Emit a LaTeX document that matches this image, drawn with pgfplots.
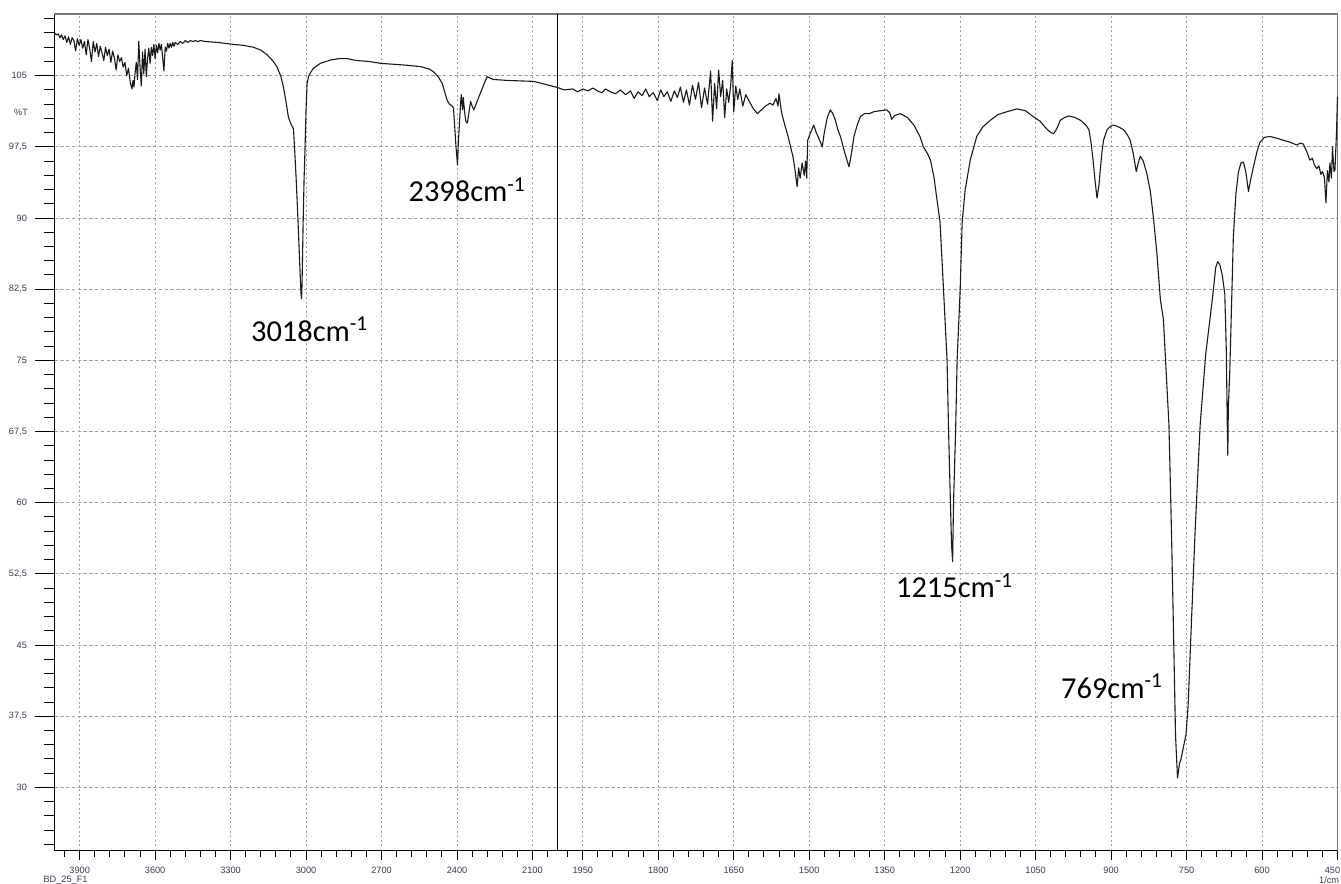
\documentclass[border=0pt]{standalone}
\usepackage{pgfplots}
\pgfplotsset{compat=1.18}
\usepackage{pgfplotstable}
\usepackage{fontspec}
\setmainfont{Liberation Sans}
\newfontfamily\annfont{Carlito}
\definecolor{tickcol}{RGB}{55,60,80}
\definecolor{gridcol}{RGB}{160,160,160}
\definecolor{framecol}{RGB}{120,120,120}
\definecolor{tracecol}{RGB}{25,25,25}
\tikzset{annot/.style={anchor=base west, inner sep=0pt, font=\annfont\fontsize{15.2}{17}\selectfont}}

% FTIR spectrum: wavenumber (1/cm) and transmittance (%T)
\pgfplotstableread{
wn T
4000 109.5
3992 109.3
3985 109.4
3978 109.0
3972 109.3
3965 108.8
3958 109.2
3951 108.5
3944 109.1
3937 108.3
3930 109.0
3923 108.7
3916 107.6
3909 108.9
3902 108.2
3895 108.8
3888 107.9
3881 108.6
3874 107.2
3867 108.8
3860 107.8
3853 106.5
3846 108.6
3839 107.5
3832 108.4
3825 107.0
3818 108.1
3811 107.4
3804 106.6
3797 108.0
3790 107.1
3783 107.8
3776 106.4
3769 107.6
3762 106.9
3755 105.6
3748 107.2
3741 106.5
3734 106.9
3727 105.9
3720 106.4
3713 105.0
3706 105.8
3699 104.3
3692 103.6
3688 104.5
3684 103.8
3680 105.2
3675 106.4
3670 104.6
3665 108.6
3660 106.0
3655 103.9
3650 107.5
3645 105.2
3640 107.8
3635 104.9
3630 106.8
3625 107.9
3620 106.3
3615 108.0
3610 107.1
3605 108.3
3600 106.8
3595 108.2
3590 107.4
3585 108.4
3580 107.7
3575 108.3
3570 106.9
3565 105.5
3560 108.0
3555 107.6
3550 108.4
3545 107.9
3540 108.4
3535 108.0
3530 108.5
3525 108.1
3520 108.5
3510 108.3
3500 108.6
3490 108.4
3480 108.7
3470 108.5
3460 108.7
3450 108.6
3440 108.7
3430 108.6
3420 108.7
3400 108.6
3350 108.5
3290 108.3
3250 108.2
3210 108.0
3180 107.7
3155 107.2
3130 106.5
3115 105.9
3100 104.9
3090 103.8
3080 102.3
3070 100.6
3060 99.9
3050 99.4
3045 97.0
3040 94.5
3035 91.5
3030 88.4
3025 85.0
3020 82.0
3018 81.5
3016 83.0
3012 89.0
3008 94.0
3004 97.5
3000 101.5
2996 104.2
2990 104.9
2983 105.3
2970 105.8
2943 106.3
2903 106.65
2870 106.8
2837 106.8
2800 106.6
2750 106.5
2704 106.3
2650 106.2
2600 106.1
2545 105.95
2510 105.7
2493 105.4
2475 104.9
2459 104.2
2448 103.2
2439 102.4
2430 102.0
2419 101.8
2414 101.6
2410 100.0
2404 97.5
2398 95.6
2395 97.8
2391 99.6
2386 102.0
2383 103.0
2378 101.4
2375 102.7
2370 101.2
2365 100.2
2359 100.0
2352 101.2
2346 102.3
2340 101.8
2333 101.4
2320 102.3
2305 103.3
2290 104.3
2280 104.9
2265 104.7
2255 104.6
2200 104.5
2150 104.45
2095 104.4
2050 104.1
2000 103.75
1987 103.5
1970 103.6
1960 103.3
1950 103.6
1940 103.4
1930 103.7
1921 103.4
1912 103.2
1905 103.6
1895 103.3
1885 103.1
1875 103.5
1865 103.0
1855 103.4
1848 102.6
1840 103.3
1832 102.9
1825 103.6
1818 102.8
1810 103.2
1802 102.4
1795 103.5
1789 102.8
1782 103.3
1775 102.3
1768 103.4
1762 102.7
1756 103.8
1750 102.2
1744 103.5
1738 101.9
1732 104.0
1726 102.5
1720 104.3
1714 101.6
1708 103.7
1702 102.0
1696 105.5
1692 100.2
1688 104.2
1684 101.5
1680 105.6
1676 102.8
1672 104.5
1668 100.6
1664 103.6
1660 102.2
1656 104.0
1653 106.6
1650 101.2
1646 103.9
1642 102.5
1638 103.6
1632 101.8
1626 103.0
1620 102.4
1612 101.6
1603 101.0
1595 101.4
1587 101.8
1578 102.1
1572 101.9
1566 102.6
1562 101.8
1560 103.1
1556 101.5
1554 100.9
1548 99.7
1542 98.6
1537 97.5
1532 96.4
1528 95.0
1524 93.3
1521 95.3
1518 94.2
1514 95.8
1510 94.5
1507 96.0
1505 94.2
1503 98.2
1498 98.9
1491 99.8
1486 99.0
1480 98.3
1474 97.5
1470 99.0
1464 100.6
1458 101.4
1453 101.0
1448 100.3
1443 99.3
1438 98.6
1430 97.0
1421 95.4
1416 96.8
1411 98.6
1404 99.9
1398 100.7
1390 101.0
1380 101.0
1372 101.2
1360 101.3
1346 101.4
1340 101.1
1336 100.4
1330 100.8
1319 101.0
1305 100.6
1292 99.8
1280 98.6
1273 97.5
1265 96.8
1259 96.1
1252 94.3
1246 91.9
1240 89.6
1233 82.4
1226 75.0
1223 67.6
1219.5 60.3
1217 55.5
1215 53.8
1213 60.3
1209 67.6
1206 75.0
1200 82.4
1196 89.5
1190 93.0
1186 94.2
1180 96.1
1167 98.6
1155 99.6
1140 100.3
1125 100.9
1107 101.2
1087 101.5
1070 101.3
1055 100.7
1041 100.2
1030 99.5
1020 99.0
1014 98.9
1008 99.4
1001 100.3
992 100.6
984 100.75
972 100.6
961 100.3
950 99.8
944 99.3
940 98.0
936 96.2
932 94.0
928 92.1
924 93.5
921 95.4
918 97.0
915 98.2
908 99.3
900 99.7
895 99.8
885 99.6
875 99.3
868 98.8
862 98.2
856 96.8
850 94.9
846 95.8
842 96.5
836 96.0
829 94.7
822 92.8
816 90.1
809 86.3
802 81.4
796 79.3
785 68.2
780 57.0
775 44.0
772 35.6
768 31.0
764 32.5
761 33.0
751 35.6
747 38.5
740 47.8
733 57.0
723 68.2
712 75.6
698 81.8
692 84.8
688 85.4
684 85.1
679 84.0
674 82.0
671 76.0
669 68.0
668 65.0
667 70.0
664 74.0
661 80.0
657 88.0
652 92.5
647 94.8
642 95.8
637 95.9
632 94.8
627 92.8
622 94.2
617 95.4
610 97.0
604 98.0
595 98.5
584 98.6
570 98.4
558 98.2
545 98.0
531 97.7
524 97.9
518 97.8
511 97.0
505 96.1
500 96.3
496 95.6
491 95.2
487 95.5
483 94.6
480 94.9
476 94.3
473 91.6
470 95.0
467 93.8
465 95.8
462 94.2
460 97.5
457 94.9
455 95.1
452 99.0
450 102.8
}\spectrum

\begin{document}
\begin{tikzpicture}
\useasboundingbox (-27.25pt,-16.5pt) rectangle (643.25pt,425.5pt);
\begin{axis}[
  scale only axis,
  width=641.5pt, height=418.5pt,
  xmin=0, xmax=2550,
  ymin=23.3, ymax=111.5,
  clip=false,
  axis x line*=bottom,
  axis y line*=left,
  axis line style={black, line width=0.5pt},
  tick align=outside,
  xtick={50,200,350,500,650,800,950,1050,1200,1350,1500,1650,1800,1950,2100,2250,2400,2550},
  xticklabels={3900,3600,3300,3000,2700,2400,2100,1950,1800,1650,1500,1350,1200,1050,900,750,600,{\kern-5pt 450}},
  minor xtick={20,50,...,980,1020,1050,...,2550},
  ytick={30,37.5,45,52.5,60,67.5,75,82.5,90,97.5,105},
  minor ytick={24,25.5,...,111},
  /pgf/number format/.cd, use comma, assume math mode=true,
  /pgfplots/.cd,
  grid=major,
  major x grid style={gridcol, line width=0.45pt, dash pattern=on 1pt off 1.3pt},
  major y grid style={gridcol, line width=0.45pt, dash pattern=on 1.7pt off 1.2pt},
  tick style={black, line width=0.5pt},
  xtick style={/pgfplots/major tick length=4.5pt},
  minor x tick style={/pgfplots/minor tick length=3pt},
  ytick style={/pgfplots/major tick length=9.75pt},
  minor y tick style={/pgfplots/minor tick length=5pt},
  tick label style={font=\fontsize{4.6}{5}\selectfont, text=tickcol},
  yticklabel style={xshift=-6pt},
]
% frame on the top and right sides
\draw[framecol, line width=0.7pt] (rel axis cs:0,1) -- (rel axis cs:1,1) -- (rel axis cs:1,0);
% break between the two wavenumber scales at 2000 1/cm
\draw[black, line width=0.6pt] (axis cs:1000,23.3) -- (axis cs:1000,111.5);

% 4000-2000 at half scale, 2000-450 at full scale
\addplot[tracecol, line width=0.55pt, line join=round]
  table[x expr={\thisrow{wn}>2000 ? (4000-\thisrow{wn})/2 : 3000-\thisrow{wn}}, y=T] {\spectrum};

\node[annot] at (axis cs:390,77.0) {3018cm\textsuperscript{-1}};
\node[annot] at (axis cs:703,91.7) {2398cm\textsuperscript{-1}};
\node[annot] at (axis cs:1672,50.0) {1215cm\textsuperscript{-1}};
\node[annot] at (axis cs:2000,39.4) {769cm\textsuperscript{-1}};
\end{axis}
\node[font=\fontsize{4.6}{5}\selectfont, text=tickcol] at (-16.75pt,369.5pt) {\%T};
\node[anchor=west, font=\fontsize{4.6}{5}\selectfont, text=tickcol] at (-9pt,-14.5pt) {BD\_25\_F1};
\node[anchor=east, inner sep=0pt, font=\fontsize{4.6}{5}\selectfont, text=tickcol] at (642.5pt,-14.5pt) {1/cm};
\end{tikzpicture}
\end{document}
